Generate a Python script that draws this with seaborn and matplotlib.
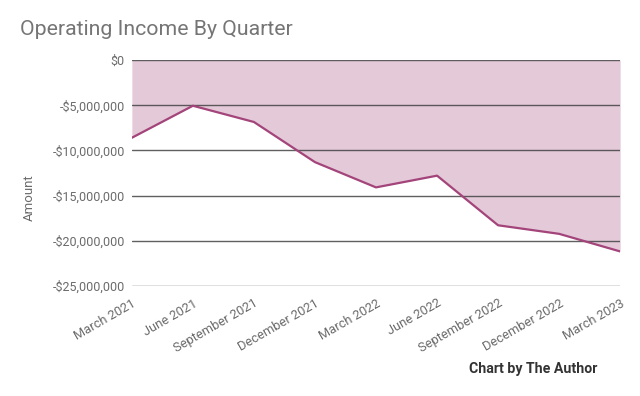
import numpy as np
import pandas as pd
import matplotlib
matplotlib.use("Agg")
import matplotlib.pyplot as plt
import seaborn as sns
from matplotlib.ticker import FuncFormatter

quarters = ["March 2021", "June 2021", "September 2021", "December 2021",
            "March 2022", "June 2022", "September 2022", "December 2022",
            "March 2023"]
income = [-8.6e6, -5.05e6, -6.85e6, -11.3e6, -14.1e6, -12.8e6,
          -18.3e6, -19.25e6, -21.2e6]
y_ticks = [0, -5e6, -10e6, -15e6, -20e6, -25e6]

df = pd.DataFrame({"quarter": quarters, "amount": income})
df["pos"] = np.arange(len(df))

sns.set_style("white")
plt.rcParams['font.family'] = ['Roboto', 'DejaVu Sans']

line_color = "#a3447a"
fill_color = "#e4c9d8"
text_grey = "#6b6b6b"

fig = plt.figure(figsize=(6.4, 3.96), dpi=100)
ax = fig.add_axes([0.206, 0.2785, 0.763, 0.5695])

# area between zero and the series
ax.fill_between(df["pos"], 0, df["amount"], color=fill_color, linewidth=0, zorder=1)
sns.lineplot(data=df, x="pos", y="amount", ax=ax, color=line_color,
             linewidth=1.6, zorder=3)

ax.set_xlim(0, len(df) - 1)
ax.set_ylim(-25e6, 0)
ax.set_yticks(y_ticks)
for yv in y_ticks:
    ax.axhline(yv, color="#444444", linewidth=1.0, alpha=0.85, zorder=2)

def money(v, _):
    if v == 0:
        return "$0"
    return "-${:,.0f}".format(abs(v))

ax.yaxis.set_major_formatter(FuncFormatter(money))
ax.set_xticks(df["pos"])
ax.set_xticklabels(df["quarter"], rotation=30, ha="right", rotation_mode="anchor")
ax.tick_params(axis="both", length=0, labelsize=9.0, labelcolor=text_grey)
ax.tick_params(axis="x", labelsize=9.3, pad=8)
ax.tick_params(axis="y", pad=5)

for s in ax.spines.values():
    s.set_visible(False)

ax.set_xlabel("")
ax.set_ylabel("Amount", fontsize=9.5, color=text_grey)
ax.yaxis.set_label_coords(-0.197, 0.39)

fig.text(0.031, 0.925, "Operating Income By Quarter", fontsize=15.3,
         color="#757575", ha="left", va="center")
fig.text(0.934, 0.068, "Chart by The Author", fontsize=10.2, fontweight="bold",
         color="#333333", ha="right", va="center")

fig.savefig("out.png", dpi=100)
